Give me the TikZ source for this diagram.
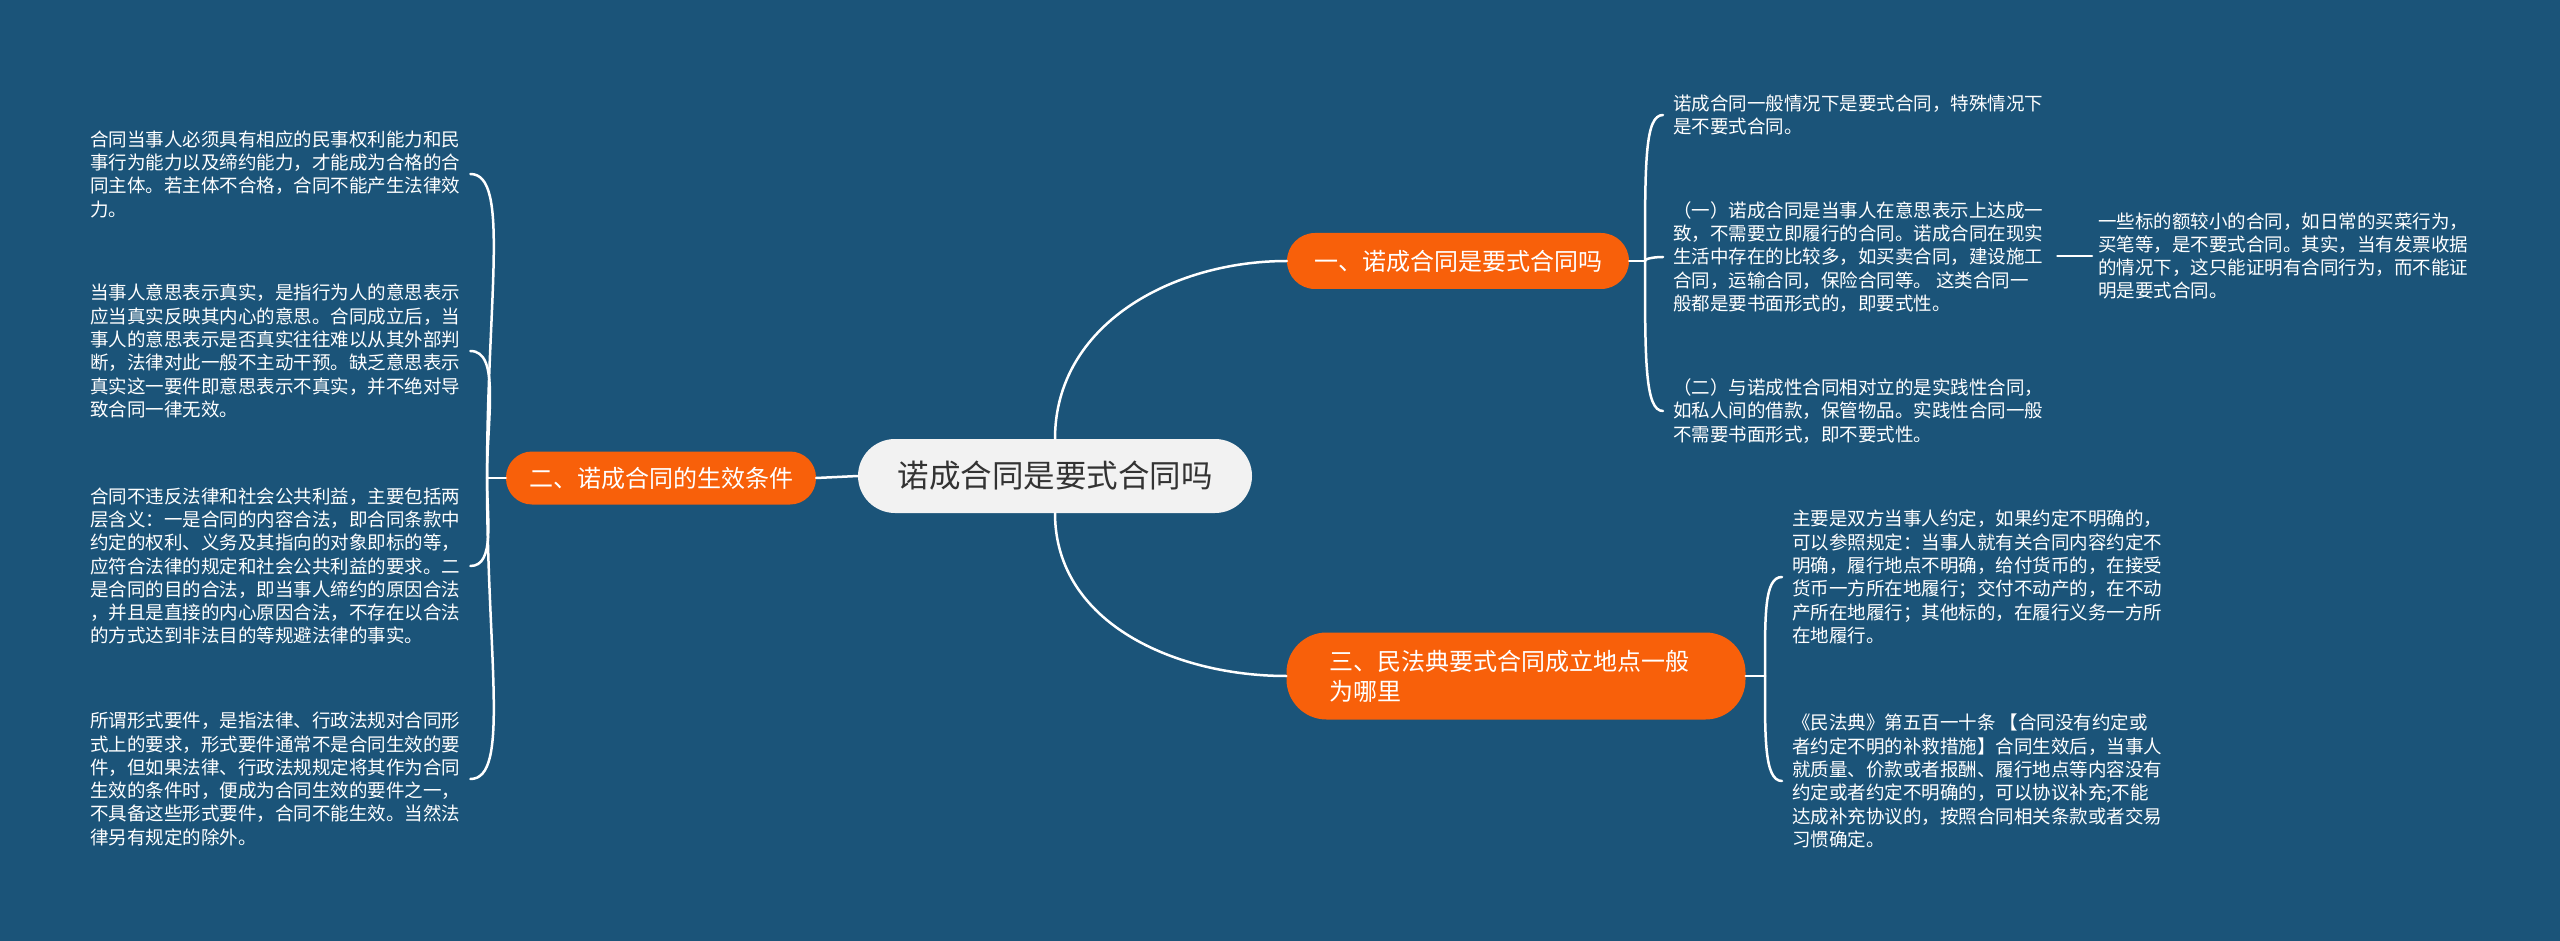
\documentclass[tikz,border=0pt]{standalone}
\usepackage{fontspec}
\newfontfamily\cjk{Noto Sans CJK SC}
\definecolor{bg}{HTML}{1B5479}
\definecolor{org}{HTML}{F8600A}
\definecolor{cbox}{HTML}{F2F2F2}
\definecolor{ctext}{HTML}{333333}
\tikzset{
  leaf/.style={font=\cjk\fontsize{18.5}{23.3}\selectfont, text=white, align=left, inner sep=0pt},
  branch/.style={fill=org, text=white, font=\cjk\fontsize{24}{30}\selectfont, inner ysep=0pt},
  link/.style={draw=white, line width=2.5pt, line cap=round},
}
\begin{document}
\begin{tikzpicture}[x=1pt,y=-1pt]
\fill[bg] (0,0) rectangle (2560,941);
\useasboundingbox (0,0) rectangle (2560,941);

% center
\node[fill=cbox, text=ctext, font=\cjk\fontsize{31.5}{36}\selectfont, rounded corners=37pt,
  minimum width=394pt, minimum height=74pt, inner sep=0pt] (root) at (1055,476) {诺成合同是要式合同吗};

% branches
\node[branch, rounded corners=28pt, minimum width=342pt, minimum height=56pt] (b1) at (1458,261) {一、诺成合同是要式合同吗};
\node[branch, rounded corners=26pt, minimum width=310pt, minimum height=53pt] (b2) at (661,478) {二、诺成合同的生效条件};
\node[branch, rounded corners=40pt, text width=373pt, align=left, inner xsep=43pt, minimum height=87pt] (b3) at (1516,676) {三、民法典要式合同成立地点一般\\为哪里};

% junctions
\coordinate (j1) at (1645,261);
\coordinate (j2) at (487,478);
\coordinate (j3) at (1765,676);

% leaves of branch 2
\node[leaf, anchor=west] (l2a) at (90,174) {合同当事人必须具有相应的民事权利能力和民\\事行为能力以及缔约能力，才能成为合格的合\\同主体。若主体不合格，合同不能产生法律效\\力。};
\node[leaf, anchor=west] (l2b) at (90,351) {当事人意思表示真实，是指行为人的意思表示\\应当真实反映其内心的意思。合同成立后，当\\事人的意思表示是否真实往往难以从其外部判\\断，法律对此一般不主动干预。缺乏意思表示\\真实这一要件即意思表示不真实，并不绝对导\\致合同一律无效。};
\node[leaf, anchor=west] (l2c) at (90,566) {合同不违反法律和社会公共利益，主要包括两\\层含义：一是合同的内容合法，即合同条款中\\约定的权利、义务及其指向的对象即标的等，\\应符合法律的规定和社会公共利益的要求。二\\是合同的目的合法，即当事人缔约的原因合法\\，并且是直接的内心原因合法，不存在以合法\\的方式达到非法目的等规避法律的事实。};
\node[leaf, anchor=west] (l2d) at (90,779) {所谓形式要件，是指法律、行政法规对合同形\\式上的要求，形式要件通常不是合同生效的要\\件，但如果法律、行政法规规定将其作为合同\\生效的条件时，便成为合同生效的要件之一，\\不具备这些形式要件，合同不能生效。当然法\\律另有规定的除外。};

% leaves of branch 1
\node[leaf, anchor=west] (l1a) at (1673,115) {诺成合同一般情况下是要式合同，特殊情况下\\是不要式合同。};
\node[leaf, anchor=west] (l1b) at (1673,257) {（一）诺成合同是当事人在意思表示上达成一\\致，不需要立即履行的合同。诺成合同在现实\\生活中存在的比较多，如买卖合同，建设施工\\合同，运输合同，保险合同等。 这类合同一\\般都是要书面形式的，即要式性。};
\node[leaf, anchor=west] (l1c) at (1673,411) {（二）与诺成性合同相对立的是实践性合同，\\如私人间的借款，保管物品。实践性合同一般\\不需要书面形式，即不要式性。};
\node[leaf, anchor=west] (l1d) at (2098,256) {一些标的额较小的合同，如日常的买菜行为，\\买笔等，是不要式合同。其实，当有发票收据\\的情况下，这只能证明有合同行为，而不能证\\明是要式合同。};

% leaves of branch 3
\node[leaf, anchor=west] (l3a) at (1792,577) {主要是双方当事人约定，如果约定不明确的，\\可以参照规定：当事人就有关合同内容约定不\\明确，履行地点不明确，给付货币的，在接受\\货币一方所在地履行；交付不动产的，在不动\\产所在地履行；其他标的，在履行义务一方所\\在地履行。};
\node[leaf, anchor=west] (l3b) at (1792,781) {《民法典》第五百一十条 【合同没有约定或\\者约定不明的补救措施】合同生效后，当事人\\就质量、价款或者报酬、履行地点等内容没有\\约定或者约定不明确的，可以协议补充;不能\\达成补充协议的，按照合同相关条款或者交易\\习惯确定。};

% root connectors
\draw[link] (root.north) to[out=90,in=180] (b1.west);
\draw[link] (root.south) to[out=-90,in=180] (b3.west);
\draw[link] (root.west) -- (b2.east);

% branch 1
\draw[link] (b1.east) -- (j1);
\draw[link] (j1) to[out=90,in=180,out distance=100pt,in distance=18pt] ([xshift=-10pt]l1a.west);
\draw[link] (j1) to[out=90,in=180,out distance=3pt,in distance=6pt] ([xshift=-10pt]l1b.west);
\draw[link] (j1) to[out=-90,in=180,out distance=100pt,in distance=18pt] ([xshift=-10pt]l1c.west);
\coordinate (t1) at ([xshift=14pt]l1b.east);
\draw[link] (t1 |- l1d.west) -- ([xshift=-6pt]l1d.west);

% branch 2
\draw[link] (b2.west) -- (j2);
\draw[link] (j2) to[out=90,in=0,out distance=180pt,in distance=40pt] ([xshift=10pt]l2a.east);
\draw[link] (j2) to[out=90,in=0,out distance=60pt,in distance=30pt] ([xshift=10pt]l2b.east);
\draw[link] (j2) to[out=-90,in=0,out distance=40pt,in distance=25pt] ([xshift=10pt]l2c.east);
\draw[link] (j2) to[out=-90,in=0,out distance=180pt,in distance=40pt] ([xshift=10pt]l2d.east);

% branch 3
\draw[link] (b3.east) -- (j3);
\draw[link] (j3) to[out=90,in=180,out distance=60pt,in distance=18pt] ([xshift=-10pt]l3a.west);
\draw[link] (j3) to[out=-90,in=180,out distance=60pt,in distance=18pt] ([xshift=-10pt]l3b.west);
\end{tikzpicture}
\end{document}
